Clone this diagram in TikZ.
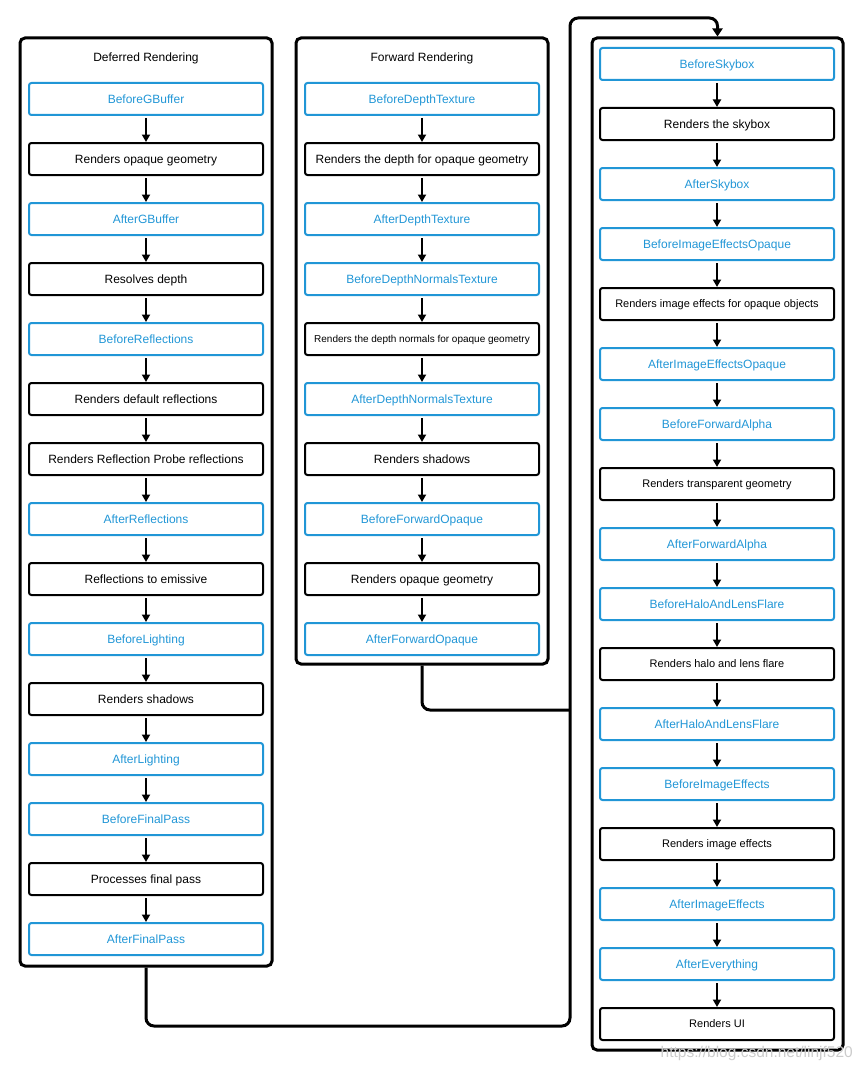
\documentclass[tikz,border=0pt]{standalone}
\usepackage{fontspec}
\setmainfont{Liberation Sans}
\usetikzlibrary{arrows.meta}
\definecolor{ublue}{RGB}{33,150,214}
\begin{document}
\begin{tikzpicture}[x=1pt,y=-1pt,
  box/.style={line width=2pt, rounded corners=2.5pt, minimum width=234pt, minimum height=32pt, inner sep=0pt,
    font=\fontsize{12}{14}\selectfont, text height=8.6pt, text depth=0pt},
  evt/.style={box, draw=ublue, text=ublue},
  act/.style={box, draw=black, text=black},
  actsm/.style={act, font=\fontsize{11}{13}\selectfont, text height=7.9pt},
  actxs/.style={act, font=\fontsize{10}{12}\selectfont, text height=7.2pt},
  outerbox/.style={draw, line width=3pt, rounded corners=5pt, inner sep=0pt, minimum width=252pt},
  title/.style={font=\fontsize{12}{14}\selectfont, inner sep=0pt, text height=8.6pt, text depth=0pt},
  flow/.style={line width=2pt, -{Triangle[width=8pt,length=7.5pt]}, shorten <=2pt},
  link/.style={line width=3pt, rounded corners=8pt}]
\useasboundingbox (0,0) rectangle (863,1070);

% outer boxes
\node[outerbox, minimum height=928pt] (D) at (146,502) {};
\node[outerbox, minimum height=626pt] (F) at (422,351) {};
\node[outerbox, minimum width=251pt, minimum height=1012pt] (R) at (717.5,544) {};
\node[title] (Dt) at (146,57) {Deferred Rendering};
\node[title] (Ft) at (422,57) {Forward Rendering};

% deferred column
\foreach [count=\i from 0] \s/\t in {evt/BeforeGBuffer, act/Renders opaque geometry, evt/AfterGBuffer,
  act/Resolves depth, evt/BeforeReflections, act/Renders default reflections,
  act/Renders Reflection Probe reflections, evt/AfterReflections, act/Reflections to emissive,
  evt/BeforeLighting, act/Renders shadows, evt/AfterLighting, evt/BeforeFinalPass,
  act/Processes final pass, evt/AfterFinalPass}
  \node[\s] (d\i) at (146,99+60*\i) {\t};
\foreach \i in {1,...,14} {
  \pgfmathtruncatemacro\j{\i-1}
  \draw[flow] (d\j) -- (d\i);
}

% forward column
\foreach [count=\i from 0] \s/\t in {evt/BeforeDepthTexture, act/Renders the depth for opaque geometry,
  evt/AfterDepthTexture, evt/BeforeDepthNormalsTexture, actxs/Renders the depth normals for opaque geometry,
  evt/AfterDepthNormalsTexture, act/Renders shadows, evt/BeforeForwardOpaque,
  act/Renders opaque geometry, evt/AfterForwardOpaque}
  \node[\s] (f\i) at (422,99+60*\i) {\t};
\foreach \i in {1,...,9} {
  \pgfmathtruncatemacro\j{\i-1}
  \draw[flow] (f\j) -- (f\i);
}

% right column
\foreach [count=\i from 0] \s/\t in {evt/BeforeSkybox, act/Renders the skybox, evt/AfterSkybox,
  evt/BeforeImageEffectsOpaque, actsm/Renders image effects for opaque objects,
  evt/AfterImageEffectsOpaque, evt/BeforeForwardAlpha, actsm/Renders transparent geometry,
  evt/AfterForwardAlpha, evt/BeforeHaloAndLensFlare, actsm/Renders halo and lens flare,
  evt/AfterHaloAndLensFlare, evt/BeforeImageEffects, actsm/Renders image effects,
  evt/AfterImageEffects, evt/AfterEverything, actsm/Renders UI}
  \node[\s] (r\i) at (717,64+60*\i) {\t};
\foreach \i in {1,...,16} {
  \pgfmathtruncatemacro\j{\i-1}
  \draw[flow] (r\j) -- (r\i);
}

% connectors between columns
\coordinate (j1) at (570,1026);
\coordinate (j2) at (570,18);
\coordinate (j3) at (570,710);
\draw[link, -{Triangle[width=10pt,length=8pt]}] (D.south) |- (j1) -- (j2) -| (R.north);
\draw[link] (F.south) |- (j3);

% watermark
\node[text=gray!40, font=\fontsize{15.5}{17}\selectfont, anchor=east, inner sep=0pt] (wm) at (853,1053) {https://blog.csdn.net/linjf520};
\end{tikzpicture}
\end{document}
